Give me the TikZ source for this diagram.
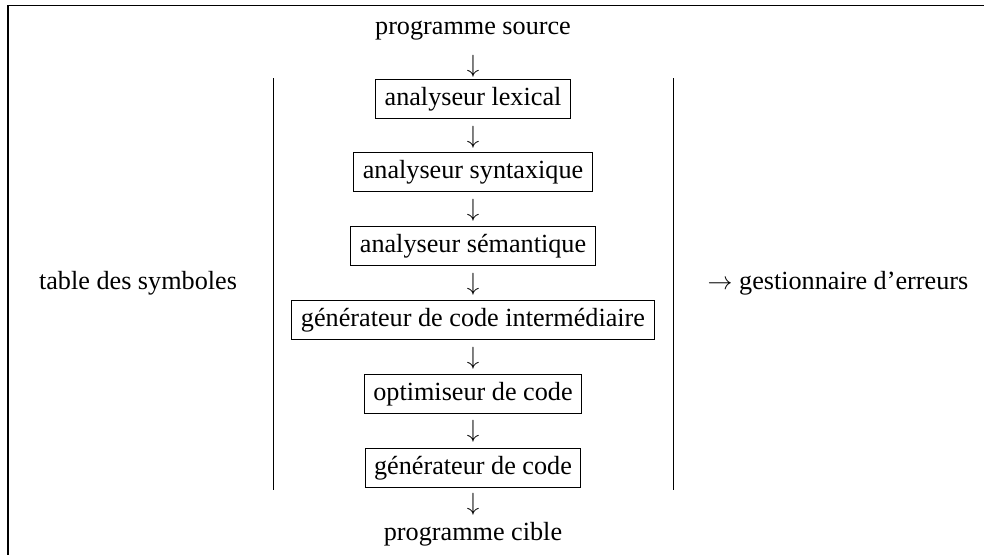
\documentclass[tikz,border=0pt]{standalone}
\usepackage{fontspec}
\setmainfont{Liberation Serif}
\begin{document}
\begin{tikzpicture}[x=1pt,y=-1pt,
  every node/.style={font=\fontsize{26.2}{31}\selectfont, inner sep=0pt},
  stage/.style={draw, line width=1pt, inner xsep=9pt, text height=18.5pt, text depth=5.5pt, inner ysep=7.5pt},
  txt/.style={},
  arr/.style={},
  rule/.style={line width=1pt}]
\useasboundingbox (0,0) rectangle (984,555);
\draw[line width=1.2pt] (984,5.5) -- (8,5.5) -- (8,555);
\node[txt] (src) at (473,31) {programme source};
\node[arr] (a0) at (473,66) {$\downarrow$};
\node[stage] (s1) at (473,99) {analyseur lexical};
\node[arr] (a1) at (473,137) {$\downarrow$};
\node[stage] (s2) at (473,172) {analyseur syntaxique};
\node[arr] (a2) at (473,210) {$\downarrow$};
\node[stage] (s3) at (473,245.5) {analyseur sémantique};
\node[arr] (a3) at (473,284) {$\downarrow$};
\node[stage] (s4) at (473,320) {générateur de code intermédiaire};
\node[arr] (a4) at (473,358) {$\downarrow$};
\node[stage] (s5) at (473,394) {optimiseur de code};
\node[arr] (a5) at (473,431) {$\downarrow$};
\node[stage] (s6) at (473,468) {générateur de code};
\node[arr] (a6) at (473,504) {$\downarrow$};
\node[txt] (tgt) at (473,534) {programme cible};
\node[txt] (tab) at (138,283) {table des symboles};
\node[txt] (err) at (838,283) {$\rightarrow$ gestionnaire d’erreurs};
\coordinate (l1) at (273,78);
\coordinate (l2) at (273,490);
\coordinate (r1) at (673,78);
\coordinate (r2) at (673,490);
\draw[rule] (l1) -- (l2);
\draw[rule] (r1) -- (r2);
\end{tikzpicture}
\end{document}
